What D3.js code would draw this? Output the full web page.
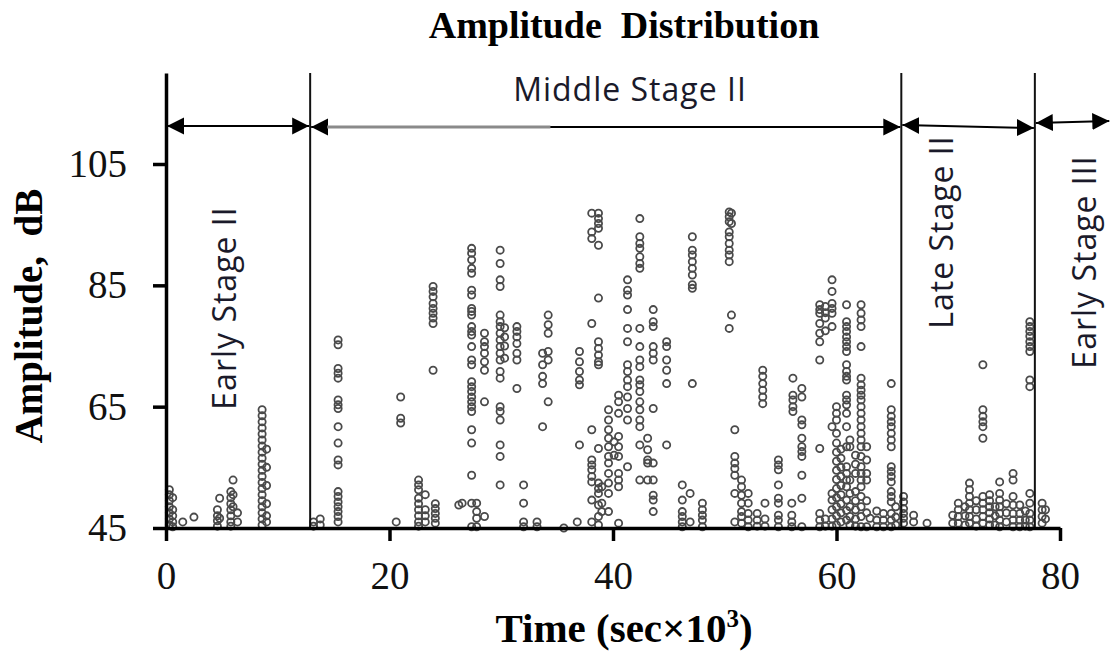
<!DOCTYPE html>
<html lang="en">
<head>
<meta charset="utf-8">
<title>Amplitude Distribution</title>
<script src="https://d3js.org/d3.v7.min.js"></script>
<style>
  body { margin: 0; background: #fff; }
  svg text { white-space: pre; }
</style>
</head>
<body>
<script>
// each row: [time (sec x 10^3), amplitude, amplitude, ...]
var earlyStage2 = [
  [0.3, 45.5, 46.5, 47.5, 48.5, 49.5, 50.5, 51.3],
  [0.6, 45.2, 46, 47, 48, 50],
  [1.5, 46],
  [2.5, 46.8],
  [4.6, 45.3, 46.2, 47, 48],
  [4.8, 49.9, 46.6],
  [5.8, 45.3, 46, 47, 48, 49, 50, 51],
  [6.0, 52.9, 50.5, 48.5],
  [6.4, 46, 47.5],
  [8.6, 64.5, 63.5, 62.5, 61.5, 60.5, 59.5, 58.5, 57.5, 56.5, 55.5, 54.5, 53.5, 52.5, 51.5, 50.5, 49.5, 48.5, 47.5, 46.5, 45.5],
  [9.0, 58, 55, 52, 49, 47, 46]
];

var middleStage2 = [
  [13.2, 45.3, 46],
  [13.8, 46.5, 45.5],
  [15.4, 76, 75.2, 71.3, 70.5, 69.7, 66.1, 65.3, 64.7, 61.7, 59, 56.2, 55.4, 51, 50.2, 49.3, 48.5, 47.7, 46.9, 46],
  [20.6, 46],
  [21.0, 66.6, 63.1, 62.3],
  [22.6, 52.9, 52.1, 51.3, 49.9, 49, 48, 47, 46, 45.3],
  [23.2, 50.5, 48, 47, 46],
  [23.9, 84.8, 84, 83.1, 82, 81.2, 80.4, 79.6, 78.7, 71],
  [24.1, 49, 48.2, 47.4, 46.6, 45.8],
  [26.2, 48.8],
  [26.5, 49.1],
  [27.35, 91.1, 90.3, 89.2, 87.8, 87, 84.2, 83.4, 81.2, 80.7, 80.1, 78.2, 77.4, 76.8, 74.9, 72.7, 71.9, 69.1, 68.3, 67.5, 66.6, 65.8, 65, 64.2, 61.2, 59, 53.7, 49.1, 45.2],
  [27.8, 49.1, 47.7, 46.6, 45.2],
  [28.5, 77.1, 75.7, 74.9, 73.8, 72.4, 71, 65.8, 46.9],
  [29.9, 90.8, 88.6, 85.9, 84.8, 80.1, 79, 78.2, 77.1, 76, 74.9, 73.8, 72.7, 70.8, 69.7, 65, 64.2, 62.8, 58.7, 56.8, 52.1],
  [30.3, 78, 76.5, 75, 73],
  [31.4, 78.2, 77.4, 76.5, 75.4, 73.8, 72.7, 68],
  [32.0, 52.1, 49.1, 46, 45.2],
  [33.2, 45.2, 46],
  [33.7, 73.8, 71.9, 70, 68.8, 61.7],
  [34.2, 80.1, 78.5, 77.1, 74.1, 72.7, 65.8],
  [35.6, 45],
  [36.8, 46],
  [37.0, 74.1, 72.4, 70.8, 69.4, 68.6, 58.7],
  [38.1, 96.9, 93.8, 92.7, 78.7, 61.2, 56.2, 55.4, 54.6, 53.5, 52.6, 49.6, 46],
  [38.7, 96.9, 96, 95.2, 94.4, 91.6, 82.9, 75.7, 74.6, 73.5, 72.4, 71.9, 58.1, 52.4, 51.5, 50.7, 48.8, 46.9, 45.5],
  [39.0, 51.8, 49.1, 47.7],
  [39.6, 64.5, 62.8, 61.2, 59.8, 58.4, 56.8, 55.7, 54, 52.4, 50.7, 47.7],
  [40.1, 59.2, 57],
  [40.5, 66.9, 65.8, 63.9, 60.1, 58.4, 56.8, 54, 52.9, 51.8, 45.8],
  [41.3, 85.9, 84.2, 83.4, 81, 77.9, 75.7, 71.9, 70.8, 69.4, 68.3, 66.6, 64.7, 62.8, 55.1],
  [42.4, 96, 93, 91.9, 91.1, 89.7, 88.6, 87.8, 77.9, 74.9, 72.7, 71.6, 69.4, 68.6, 67.5, 65.8, 64.5, 62.8, 61.7, 58.7, 52.9],
  [43.1, 59.8, 57.9, 56.2, 55.7, 52.9],
  [43.6, 81, 79, 78.2, 74.9, 73.8, 72.7, 64.7, 55.7, 52.9, 50.4, 49.6, 47.7],
  [44.8, 75.7, 74.9, 72.7, 71, 68.8, 58.7],
  [46.2, 52.1, 49.6, 47.7, 46.9, 46, 45.2],
  [46.9, 50.7, 46],
  [47.1, 93, 90.8, 90, 88.9, 87.8, 86.7, 85.1, 84.5, 68.8],
  [48.0, 49.1, 48, 47.1, 46.3, 45.2],
  [50.4, 97.1, 96.3, 95.5, 93.8, 93, 91.9, 90.8, 90, 88.9, 77.9],
  [50.6, 96.9, 95.2, 80.1],
  [50.9, 61.2, 56.8, 55.7, 54.8, 53.7, 50.7, 46],
  [51.5, 52.9, 51.8, 50.4, 49.1, 47.7, 46.9, 45.8],
  [52.1, 50.7, 49.1, 47.4, 46.3, 45.2],
  [52.9, 45.3, 46.3, 47.4],
  [53.4, 71, 70, 68.8, 67.7, 66.6, 65.5],
  [53.6, 49.1, 46.5, 45.3],
  [54.8, 56.2, 55.4, 54.6, 52.1, 49.9, 49.1, 47.1, 46.3, 45.2],
  [56.0, 49.1, 47.1, 46, 45.2],
  [56.1, 69.7, 66.9, 66.1, 65, 64.2],
  [56.9, 68, 66.6, 62.8, 62, 59.8, 58.4, 57.6, 56.8, 53.7, 49.9, 45.2],
  [58.5, 81.8, 81, 80.4, 78.7, 77.1, 75.7, 72.7, 58.1, 47.4, 46.3, 45.2],
  [59.0, 81.5, 80.5, 79.6, 77.5, 46.5, 45.3],
  [59.6, 85.9, 84, 82, 81.2, 80.4, 78.2, 61.7, 50.7, 49.6, 48, 46.5, 45.3],
  [60.0, 65, 63.9, 62.8, 60.6, 59, 57.5, 56, 54.5, 53, 51.5, 50, 48.5, 47, 45.5],
  [60.4, 58, 56.5, 55, 53.5, 52, 50.5, 49, 47.5, 46],
  [60.9, 81.8, 79, 78.2, 77.4, 76.5, 75.7, 74.9, 74.1, 71.9, 70.8, 70, 69.4, 66.9, 66.1, 65.3, 63.9, 61.7, 58.4, 55.1, 54, 52.9, 51.8, 49.6, 47.9, 46.3],
  [61.2, 59.5, 58.4, 52.9, 50.7, 48.5, 46.9, 45.5],
  [61.7, 57, 55.5, 54, 51, 49.5, 48, 46.5, 45.3],
  [62.2, 81.8, 80.4, 79.3, 78.2, 74.9, 69.7, 68.6, 67.7, 66.9, 66.1, 65, 63.9, 62.8, 61.7, 60.6, 59.5, 58.4, 56.8, 55.1, 54, 52.9, 51.8, 50.2, 48.5, 46.9, 45.2],
  [62.7, 58.4, 56.2, 54, 52.9, 49.5, 47.5, 45.2],
  [63.0, 46.6],
  [63.6, 47.8, 46.3, 45.2],
  [64.2, 47.4, 46.3, 45.2],
  [64.9, 68.8, 64.5, 63.4, 62.5, 61.7, 60.6, 59.5, 58.4, 55.1, 54.3, 53.5, 52.6, 51, 50.2, 49.3, 47.4, 46.3, 45.2],
  [65.3, 48.5, 46.8, 45.5]
];

var lateStage2 = [
  [66.0, 50.2, 49.3, 48.2, 47.4, 46.6, 45.8],
  [66.9, 47.1, 46],
  [68.1, 45.8],
  [70.4, 47.1, 45.8],
  [70.9, 49.1, 48, 46.9, 45.8],
  [71.5, 48.5, 47, 45.5],
  [71.9, 52.4, 51.3, 50.2, 49.1, 48, 46.9, 45.8],
  [72.5, 49.5, 48, 46.5, 45.3],
  [73.1, 71.9, 64.5, 63.4, 62.5, 61.7, 59.8, 50.2, 49.1, 48, 46.9, 45.8],
  [73.7, 50.5, 49.5, 48.5, 47.5, 46.5, 45.5],
  [74.2, 48.5, 47, 45.5],
  [74.6, 52.6, 50.7, 49.6, 48.5, 47.4, 46.3, 45.2],
  [75.2, 49, 47.5, 46],
  [75.8, 54, 52.9, 50.2, 48.8, 47.4, 46.3, 45.2],
  [76.4, 48.8, 47.4, 46.3, 45.2],
  [76.9, 47.8, 46.3, 45.3],
  [77.3, 79, 78.2, 77.4, 76.6, 75.7, 74.9, 74.1, 69.4, 68.3, 50.7, 49.1, 47.4, 46.3, 45.2]
];

var earlyStage3 = [
  [78.4, 49.1, 48, 46.9, 45.8],
  [78.7, 48, 46.5]
];

var stageNames = ["Early Stage II", "Middle Stage II", "Late Stage II", "Early Stage III"];
var stageBounds = [0, 12.9, 65.8, 77.75, 84.5];
var xTicks = [0, 20, 40, 60, 80];
var yTicks = [45, 65, 85, 105];

var W = 1112, H = 657;
var margin = {top: 73, right: 52, bottom: 129, left: 166};

var points = [];
[earlyStage2, middleStage2, lateStage2, earlyStage3].forEach(function(rows){
  rows.forEach(function(r){
    for (var i = 1; i < r.length; i++) points.push({t: r[0], a: r[i]});
  });
});

var x = d3.scaleLinear().domain([0, 80]).range([margin.left, W - margin.right]);
var y = d3.scaleLinear().domain([45, 120]).range([H - margin.bottom, margin.top]);

var svg = d3.select("body").append("svg")
  .attr("width", W).attr("height", H)
  .style("font-family", "'Liberation Serif', 'Times New Roman', serif");

// points
svg.append("g")
  .selectAll("circle")
  .data(points)
  .enter().append("circle")
  .attr("cx", function(d){ return x(d.t); })
  .attr("cy", function(d){ return y(d.a); })
  .attr("r", 3.6)
  .attr("fill", "none")
  .attr("stroke", "#4a4a4a")
  .attr("stroke-width", 1.8);

// stage divider lines
svg.append("g")
  .selectAll("line")
  .data(stageBounds.slice(1, 4))
  .enter().append("line")
  .attr("x1", function(d){ return x(d); })
  .attr("x2", function(d){ return x(d); })
  .attr("y1", y(120)).attr("y2", y(45))
  .attr("stroke", "#111").attr("stroke-width", 2);

// stage arrows
var arrowY = [[126, 126], [127, 127], [125, 128], [123, 121]];
var defs = svg.append("defs");
defs.append("marker")
  .attr("id", "head").attr("viewBox", "0 0 10 10")
  .attr("refX", 10).attr("refY", 5)
  .attr("markerWidth", 17).attr("markerHeight", 20)
  .attr("markerUnits", "userSpaceOnUse")
  .attr("orient", "auto-start-reverse")
  .append("path").attr("d", "M0,0L10,5L0,10Z").attr("fill", "#000");

var arrows = svg.append("g");
stageNames.forEach(function(name, i){
  arrows.append("line")
    .attr("x1", x(stageBounds[i]) + 1).attr("y1", arrowY[i][0])
    .attr("x2", x(stageBounds[i + 1]) - 1).attr("y2", arrowY[i][1])
    .attr("stroke", "#000").attr("stroke-width", 2)
    .attr("marker-start", "url(#head)")
    .attr("marker-end", "url(#head)");
});
// faded grey part of the middle arrow shaft
arrows.append("line")
  .attr("x1", x(stageBounds[1]) + 17).attr("x2", x(34.4))
  .attr("y1", 127).attr("y2", 127)
  .attr("stroke", "#8a8a8a").attr("stroke-width", 3);

// stage labels
var sans = "'Open Sans', 'DejaVu Sans', sans-serif";
svg.append("text")
  .attr("x", 630).attr("y", 101)
  .attr("text-anchor", "middle")
  .style("font-family", sans).style("font-size", "32px").style("letter-spacing", "1px")
  .attr("fill", "#1a1a2a")
  .text(stageNames[1]);

var vLabels = [
  {name: stageNames[0], x: 236, y: 308},
  {name: stageNames[2], x: 953, y: 232},
  {name: stageNames[3], x: 1096, y: 262}
];
svg.append("g").selectAll("text")
  .data(vLabels)
  .enter().append("text")
  .attr("transform", function(d){ return "translate(" + d.x + "," + d.y + ") rotate(-90)"; })
  .attr("text-anchor", "middle")
  .style("font-family", sans).style("font-size", "32px").style("letter-spacing", "1px")
  .attr("fill", "#1a1a2a")
  .text(function(d){ return d.name; });

// axes
var xAxis = svg.append("g")
  .attr("transform", "translate(0," + y(45) + ")")
  .call(d3.axisBottom(x).tickValues(xTicks).tickSize(13).tickPadding(20).tickSizeOuter(0));
var yAxis = svg.append("g")
  .attr("transform", "translate(" + x(0) + ",0)")
  .call(d3.axisLeft(y).tickValues(yTicks).tickSize(13).tickPadding(26).tickSizeOuter(0));

[xAxis, yAxis].forEach(function(g){
  g.select(".domain").attr("stroke", "#000").attr("stroke-width", 3.5);
  g.selectAll(".tick line").attr("stroke", "#000").attr("stroke-width", 3.5);
  g.selectAll(".tick text")
    .style("font-family", "'Liberation Serif', serif")
    .style("font-size", "39px")
    .attr("fill", "#111");
});

// titles
svg.append("text")
  .attr("x", 624).attr("y", 38)
  .attr("text-anchor", "middle")
  .style("font-weight", "bold").style("font-size", "38px")
  .text("Amplitude  Distribution");

svg.append("text")
  .attr("transform", "translate(42,316) rotate(-90)")
  .attr("text-anchor", "middle")
  .style("font-weight", "bold").style("font-size", "39px")
  .text("Amplitude,  dB");

var xl = svg.append("text")
  .attr("x", 624).attr("y", 642)
  .attr("text-anchor", "middle")
  .style("font-weight", "bold").style("font-size", "41px");
xl.append("tspan").text("Time (sec\u00d710");
xl.append("tspan").attr("dy", -15).style("font-size", "25px").text("3");
xl.append("tspan").attr("dy", 15).text(")");
</script>
</body>
</html>
